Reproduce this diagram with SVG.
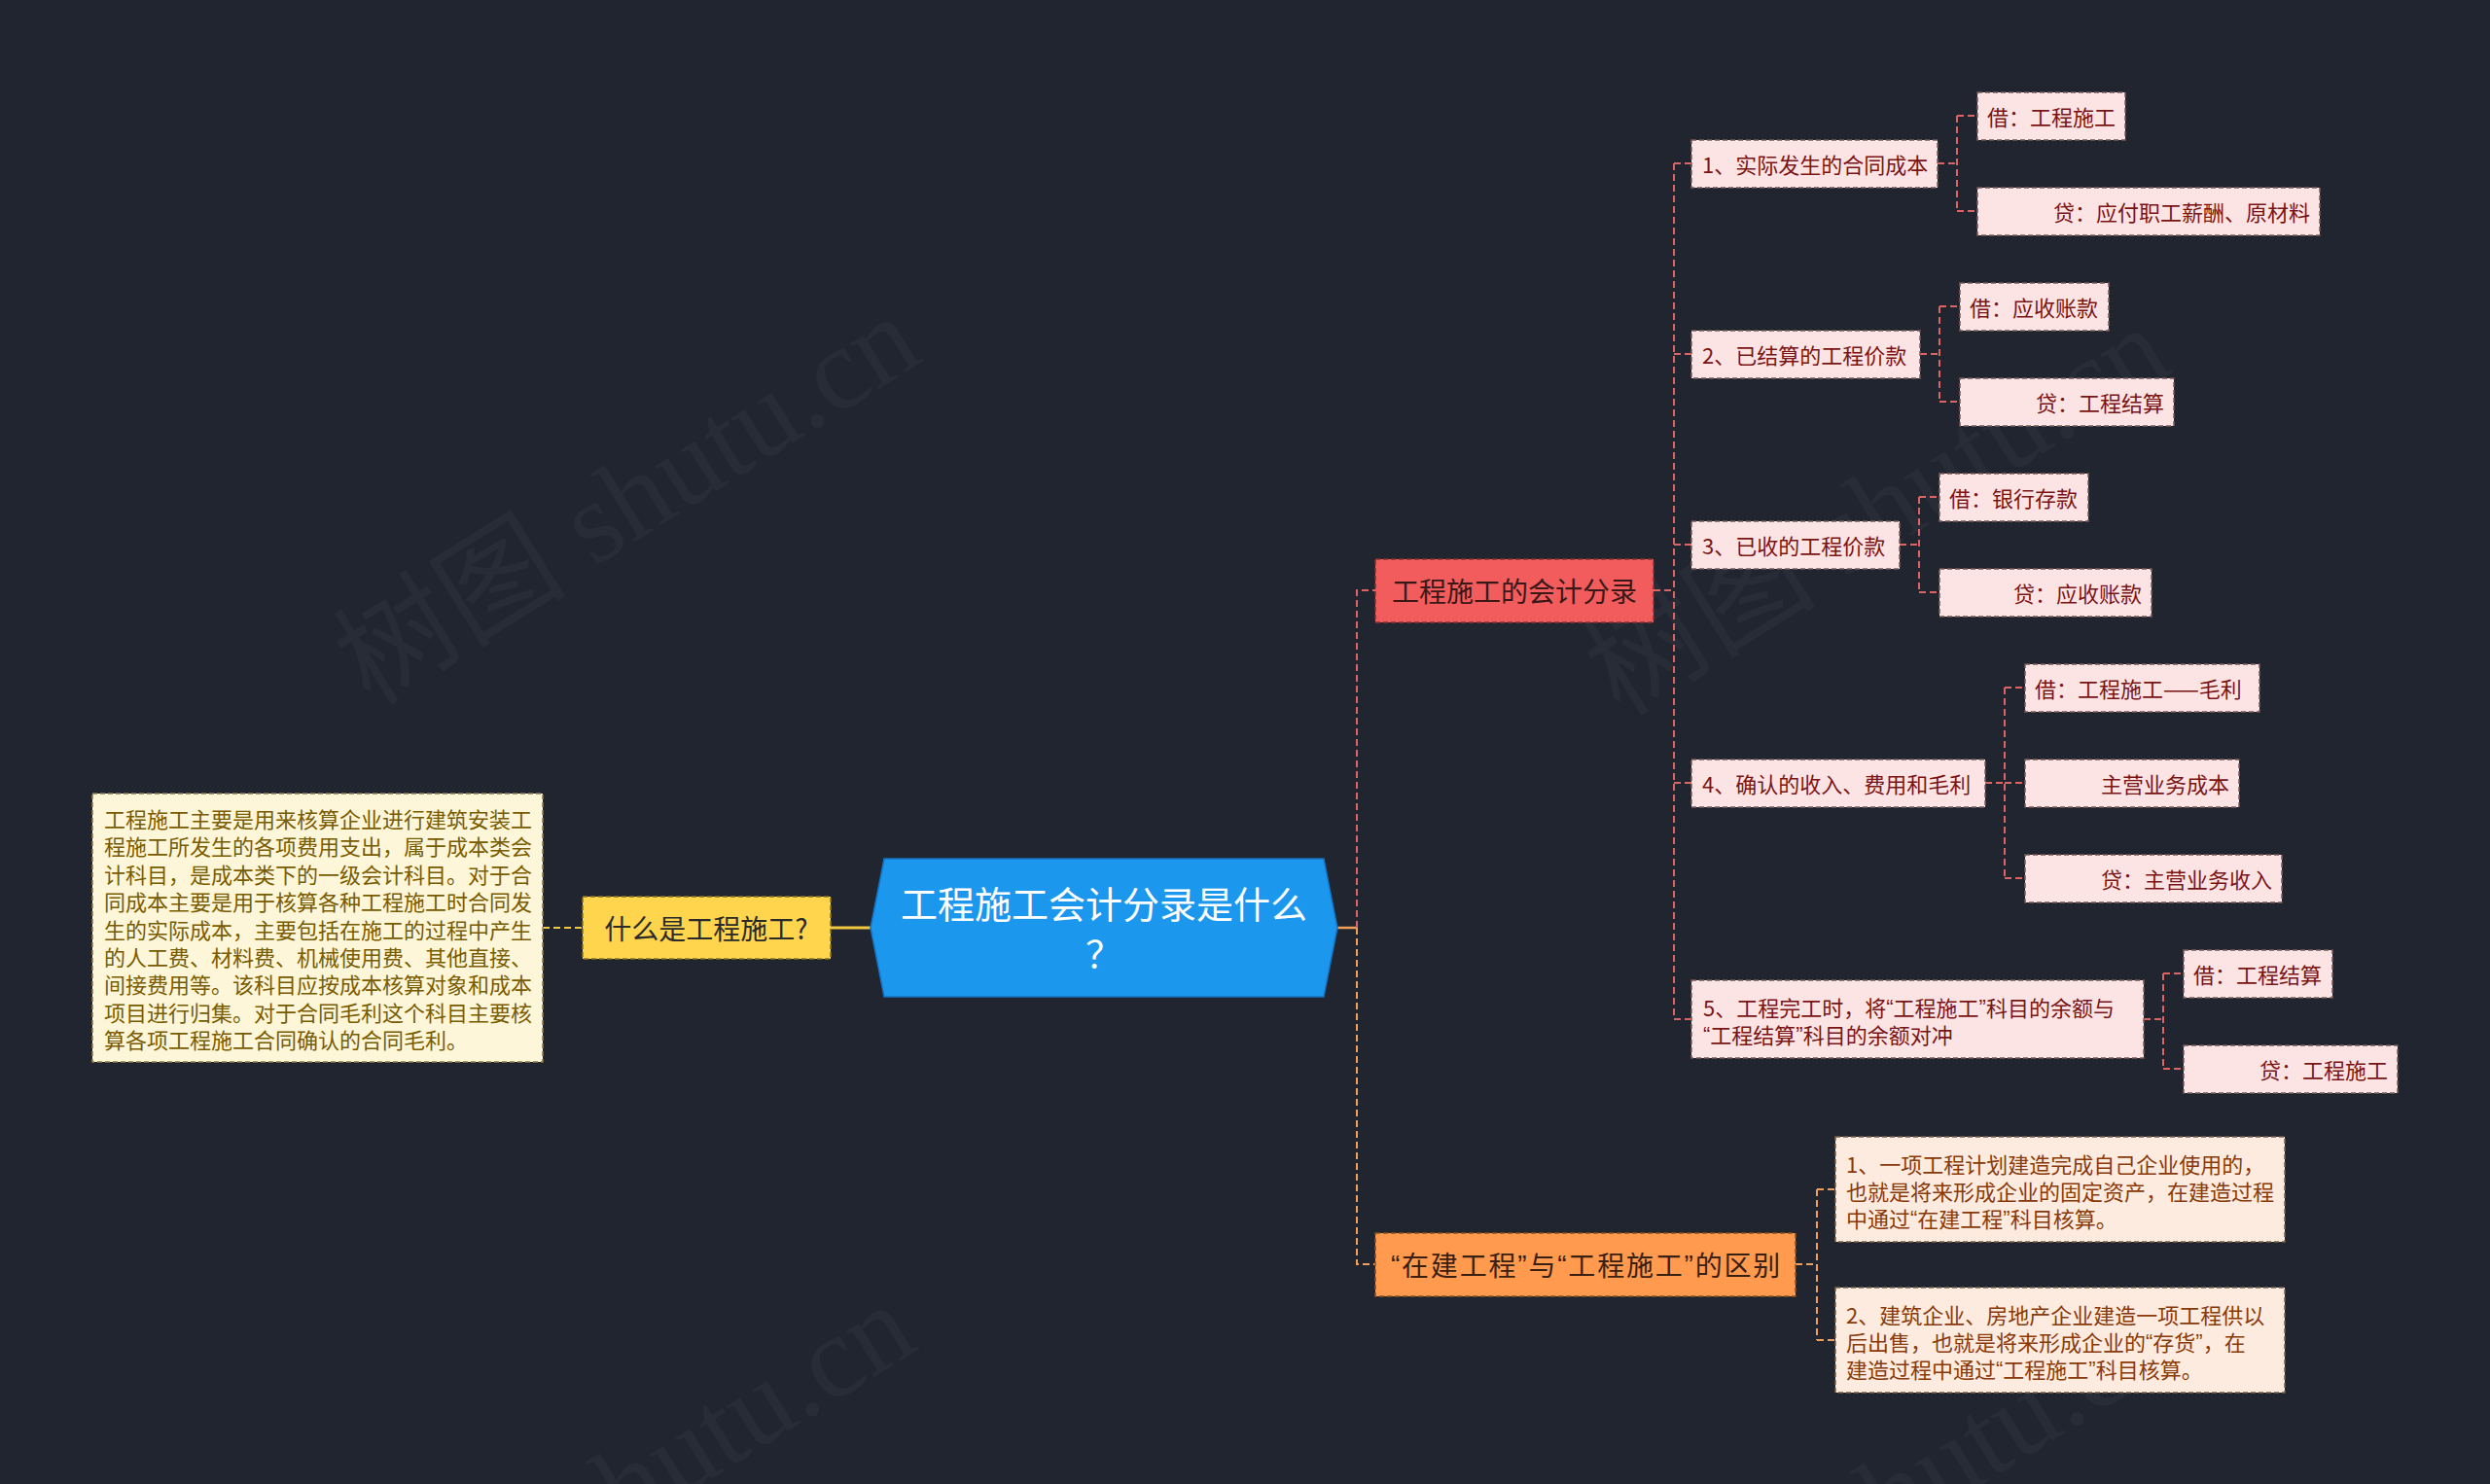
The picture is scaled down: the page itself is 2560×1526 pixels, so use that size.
<svg xmlns="http://www.w3.org/2000/svg" width="2560" height="1526" viewBox="0 0 2560 1526">
<style>
text{font-family:"Noto Sans CJK SC","Liberation Sans",sans-serif;dominant-baseline:central}
.q{font-family:"Liberation Sans",sans-serif}
.wm{font-family:"Liberation Serif","Noto Sans CJK SC",serif;font-size:120px;fill:#ffffff;fill-opacity:0.035;text-anchor:middle}
.l2{fill:#fde4e4;stroke:#7a5a5a;stroke-width:1.5;stroke-dasharray:5 3}
.l2t{font-size:22px;fill:#7a1414}
.oc{fill:#fdebdf;stroke:#7a604a;stroke-width:1.5;stroke-dasharray:5 3}
.oct{font-size:22px;fill:#8a3a08}
.cr{fill:none;stroke:#dd6464;stroke-width:2;stroke-dasharray:7 4}
.co{fill:none;stroke:#f0a05a;stroke-width:2;stroke-dasharray:7 4}
.r{text-anchor:end}
</style>
<rect x="0" y="0" width="2560" height="1526" fill="#21252f"/>
<g id="watermarks">
<text class="wm" transform="translate(645,514) rotate(-32)">树图 shutu.cn</text>
<text class="wm" transform="translate(1930,525) rotate(-32)">树图 shutu.cn</text>
<text class="wm" transform="translate(640,1530) rotate(-32)">树图 shutu.cn</text>
<text class="wm" transform="translate(1940,1540) rotate(-32)">树图 shutu.cn</text>
</g>
<g id="connectors">
<line x1="558" y1="954" x2="599" y2="954" stroke="#f2c840" stroke-width="2" stroke-dasharray="7 4"/>
<line x1="854" y1="954" x2="897" y2="954" stroke="#f2c840" stroke-width="3"/>
<line x1="1375" y1="954" x2="1395" y2="954" stroke="#f0a05a" stroke-width="2.5"/>
<path class="cr" d="M1395,954 V607 H1414" stroke-width="3"/>
<path class="co" d="M1395,954 V1300 H1414" stroke-width="3"/>
<path class="cr" d="M1700,607 H1721 M1721,168 V1048 M1721,168 H1739 M1721,364 H1739 M1721,560 H1739 M1721,805 H1739 M1721,1048 H1739"/>
<path class="cr" d="M1992,168 H2012 M2012,119 V217 M2012,119 H2033 M2012,217 H2033"/>
<path class="cr" d="M1974,364 H1994 M1994,315 V413 M1994,315 H2015 M1994,413 H2015"/>
<path class="cr" d="M1953,560 H1973 M1973,511 V609 M1973,511 H1994 M1973,609 H1994"/>
<path class="cr" d="M2041,805 H2061 M2061,707 V903 M2061,707 H2082 M2061,805 H2082 M2061,903 H2082"/>
<path class="cr" d="M2204,1048 H2224 M2224,1001 V1099 M2224,1001 H2245 M2224,1099 H2245"/>
<path class="co" d="M1846,1300 H1868 M1868,1223 V1378 M1868,1223 H1887 M1868,1378 H1887"/>
</g>
<g id="root">
<polygon points="895,954 909,883 1361,883 1375,954 1361,1025 909,1025" fill="#1b98ee" stroke="#1570c0" stroke-width="1.5"/>
<text x="1135" y="927" font-size="38" fill="#ffffff" text-anchor="middle">工程施工会计分录是什么</text>
<text x="1135" y="978" font-size="38" fill="#ffffff" text-anchor="middle">？</text>
</g>
<g id="n-what">
<rect x="599" y="922" width="255" height="64" fill="#ffd54d" stroke="#8a7020" stroke-width="1.5" stroke-dasharray="5 3"/>
<text x="726" y="954" font-size="28" fill="#2a2a2a" text-anchor="middle">什么是工程施工?</text>
</g>
<g id="n-what-detail">
<rect x="95" y="816" width="463" height="276" fill="#fdf6d8" stroke="#8a7a50" stroke-width="1.5" stroke-dasharray="5 3"/>
<g font-size="22" fill="#7a5c00">
<text x="107" y="841">工程施工主要是用来核算企业进行建筑安装工</text>
<text x="107" y="869.4">程施工所发生的各项费用支出，属于成本类会</text>
<text x="107" y="897.8">计科目，是成本类下的一级会计科目。对于合</text>
<text x="107" y="926.2">同成本主要是用于核算各种工程施工时合同发</text>
<text x="107" y="954.6">生的实际成本，主要包括在施工的过程中产生</text>
<text x="107" y="983">的人工费、材料费、机械使用费、其他直接、</text>
<text x="107" y="1011.4">间接费用等。该科目应按成本核算对象和成本</text>
<text x="107" y="1039.8">项目进行归集。对于合同毛利这个科目主要核</text>
<text x="107" y="1068.2">算各项工程施工合同确认的合同毛利。</text>
</g>
</g>
<g id="n-entries">
<rect x="1414" y="575" width="286" height="65" fill="#f25c5c" stroke="#8a3030" stroke-width="1.5" stroke-dasharray="5 3"/>
<text x="1557" y="607" font-size="28" fill="#3a1818" text-anchor="middle">工程施工的会计分录</text>
</g>
<g id="n-diff">
<rect x="1414" y="1268" width="432" height="65" fill="#ff9a4f" stroke="#8a5020" stroke-width="1.5" stroke-dasharray="5 3"/>
<text x="1631" y="1300" font-size="28" fill="#3a2010" text-anchor="middle" letter-spacing="1.8"><tspan class="q">“</tspan>在建工程<tspan class="q">”</tspan>与<tspan class="q">“</tspan>工程施工<tspan class="q">”</tspan>的区别</text>
</g>
<g id="e1">
<rect class="l2" x="1739" y="144" width="253" height="49"/>
<text class="l2t" x="1750" y="168">1、实际发生的合同成本</text>
</g>
<g id="e1a">
<rect class="l2" x="2033" y="95" width="152" height="49"/>
<text class="l2t" x="2043" y="119">借：工程施工</text>
</g>
<g id="e1b">
<rect class="l2" x="2033" y="193" width="352" height="49"/>
<text class="l2t r" x="2375" y="217">贷：应付职工薪酬、原材料</text>
</g>
<g id="e2">
<rect class="l2" x="1739" y="340" width="235" height="49"/>
<text class="l2t" x="1750" y="364">2、已结算的工程价款</text>
</g>
<g id="e2a">
<rect class="l2" x="2015" y="291" width="153" height="49"/>
<text class="l2t" x="2025" y="315">借：应收账款</text>
</g>
<g id="e2b">
<rect class="l2" x="2015" y="389" width="220" height="49"/>
<text class="l2t r" x="2225" y="413">贷：工程结算</text>
</g>
<g id="e3">
<rect class="l2" x="1739" y="536" width="214" height="49"/>
<text class="l2t" x="1750" y="560">3、已收的工程价款</text>
</g>
<g id="e3a">
<rect class="l2" x="1994" y="487" width="153" height="49"/>
<text class="l2t" x="2004" y="511">借：银行存款</text>
</g>
<g id="e3b">
<rect class="l2" x="1994" y="585" width="218" height="49"/>
<text class="l2t r" x="2202" y="609">贷：应收账款</text>
</g>
<g id="e4">
<rect class="l2" x="1739" y="781" width="302" height="49"/>
<text class="l2t" x="1750" y="805">4、确认的收入、费用和毛利</text>
</g>
<g id="e4a">
<rect class="l2" x="2082" y="683" width="241" height="49"/>
<text class="l2t" x="2092" y="707">借：工程施工——毛利</text>
</g>
<g id="e4b">
<rect class="l2" x="2082" y="781" width="220" height="49"/>
<text class="l2t r" x="2292" y="805">主营业务成本</text>
</g>
<g id="e4c">
<rect class="l2" x="2082" y="879" width="264" height="49"/>
<text class="l2t r" x="2336" y="903">贷：主营业务收入</text>
</g>
<g id="e5">
<rect class="l2" x="1739" y="1008" width="465" height="80"/>
<text class="l2t" x="1751" y="1035">5、工程完工时，将<tspan class="q">“</tspan>工程施工<tspan class="q">”</tspan>科目的余额与</text>
<text class="l2t" x="1751" y="1063"><tspan class="q">“</tspan>工程结算<tspan class="q">”</tspan>科目的余额对冲</text>
</g>
<g id="e5a">
<rect class="l2" x="2245" y="977" width="153" height="49"/>
<text class="l2t" x="2255" y="1001">借：工程结算</text>
</g>
<g id="e5b">
<rect class="l2" x="2245" y="1075" width="220" height="49"/>
<text class="l2t r" x="2455" y="1099">贷：工程施工</text>
</g>
<g id="d1">
<rect class="oc" x="1887" y="1169" width="462" height="108"/>
<text class="oct" x="1898" y="1196">1、一项工程计划建造完成自己企业使用的，</text>
<text class="oct" x="1898" y="1224">也就是将来形成企业的固定资产，在建造过程</text>
<text class="oct" x="1898" y="1252">中通过<tspan class="q">“</tspan>在建工程<tspan class="q">”</tspan>科目核算。</text>
</g>
<g id="d2">
<rect class="oc" x="1887" y="1324" width="462" height="108"/>
<text class="oct" x="1898" y="1351">2、建筑企业、房地产企业建造一项工程供以</text>
<text class="oct" x="1898" y="1379">后出售，也就是将来形成企业的<tspan class="q">“</tspan>存货<tspan class="q">”</tspan>，在</text>
<text class="oct" x="1898" y="1407">建造过程中通过<tspan class="q">“</tspan>工程施工<tspan class="q">”</tspan>科目核算。</text>
</g>
</svg>
